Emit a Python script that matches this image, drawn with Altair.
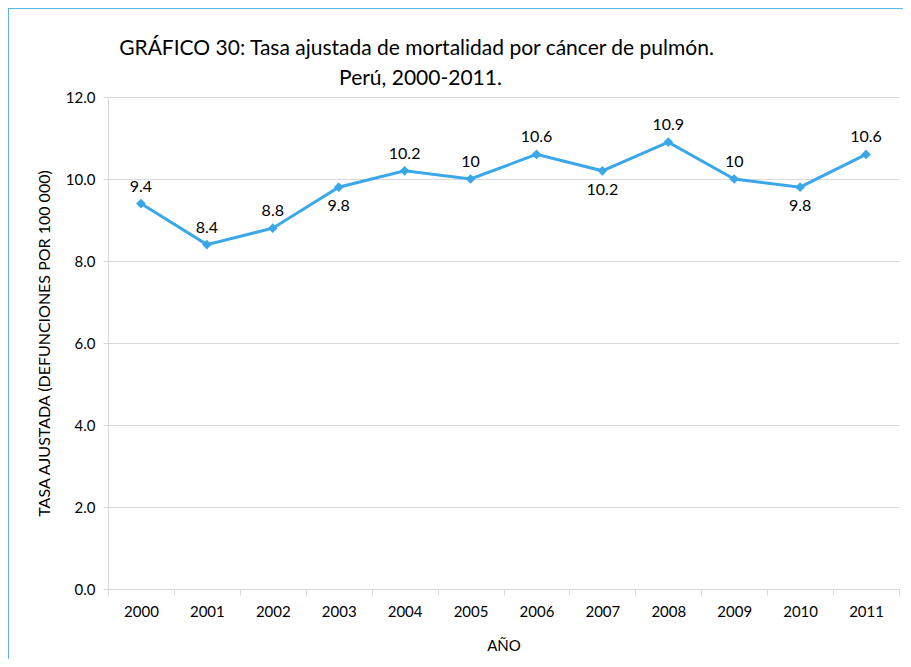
import altair as alt
import pandas as pd

years = ["2000", "2001", "2002", "2003", "2004", "2005", "2006", "2007", "2008", "2009", "2010", "2011"]
rates = [9.4, 8.4, 8.8, 9.8, 10.2, 10.0, 10.6, 10.2, 10.9, 10.0, 9.8, 10.6]
labels = ["9.4", "8.4", "8.8", "9.8", "10.2", "10", "10.6", "10.2", "10.9", "10", "9.8", "10.6"]
below_years = ["2003", "2007", "2010"]
title_lines = ["GRÁFICO 30: Tasa ajustada de mortalidad por cáncer de pulmón.", "Perú, 2000-2011."]

df = pd.DataFrame({"year": years, "rate": rates, "label": labels})
df["side"] = ["below" if y in below_years else "above" for y in years]

FONT = "Lato"
BLUE = "#3AA8E8"
W, H = 791, 492

x = alt.X("year:N", sort=years, title="AÑO",
          scale=alt.Scale(paddingInner=0, paddingOuter=0),
          axis=alt.Axis(labelAngle=0, tickBand="extent", domainColor="#D9D9D9",
                        tickColor="#D9D9D9", tickSize=6, labelPadding=9,
                        titlePadding=19, labelFontSize=15, titleFontSize=15,
                        titleFontWeight="normal", labelColor="#000", titleColor="#000",
                        labelFont=FONT, titleFont=FONT, grid=False))
y = alt.Y("rate:Q", title="TASA AJUSTADA (DEFUNCIONES POR 100 000)",
          scale=alt.Scale(domain=[0, 12], nice=False),
          axis=alt.Axis(values=[0, 2, 4, 6, 8, 10, 12], format=".1f",
                        domainColor="#D9D9D9", tickColor="#D9D9D9", tickSize=5,
                        gridColor="#D9D9D9", labelPadding=8, titlePadding=13,
                        labelFontSize=15, titleFontSize=16, titleFontWeight="normal",
                        labelColor="#000", titleColor="#000", labelFont=FONT, titleFont=FONT))

base = alt.Chart(df)
line = base.mark_line(color=BLUE, strokeWidth=3).encode(x=x, y=y)
pts = base.mark_point(shape="diamond", filled=True, color=BLUE, size=95, opacity=1).encode(x=x, y=y)
txt_above = base.transform_filter(alt.datum.side == "above").mark_text(
    dy=-17, fontSize=16, font=FONT, color="#000").encode(x=x, y=y, text="label:N")
txt_below = base.transform_filter(alt.datum.side == "below").mark_text(
    dy=19, fontSize=16, font=FONT, color="#000").encode(x=x, y=y, text="label:N")

border_top = alt.Chart(df).mark_rule(color="#5DB6EA", strokeWidth=2).encode(
    x=alt.value(-100), x2=alt.value(W + 20), y=alt.value(-89))
border_left = alt.Chart(df).mark_rule(color="#5DB6EA", strokeWidth=2).encode(
    x=alt.value(-100), y=alt.value(-89), y2=alt.value(H + 90))

t1 = alt.Chart(pd.DataFrame({"t": [title_lines[0]]})).mark_text(
    fontSize=21, font=FONT, color="#000", baseline="alphabetic").encode(
    text="t:N", x=alt.value(W / 2 - 87), y=alt.value(-42))
t2 = alt.Chart(pd.DataFrame({"t": [title_lines[1]]})).mark_text(
    fontSize=21, font=FONT, color="#000", baseline="alphabetic").encode(
    text="t:N", x=alt.value(W / 2 - 83), y=alt.value(-12))

chart = alt.layer(line, pts, txt_above, txt_below, border_top, border_left, t1, t2).properties(
    width=W, height=H,
    autosize=alt.AutoSizeParams(type="none"),
    padding={"left": 100, "top": 89, "right": 4, "bottom": 70},
).configure_view(stroke=None)

chart.save("out.html", embed_options={"renderer": "svg", "actions": False})
